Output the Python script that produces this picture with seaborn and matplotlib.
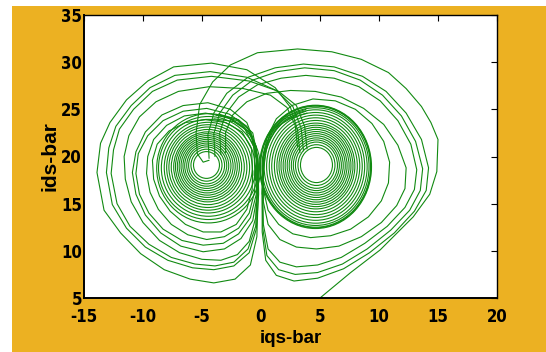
import matplotlib
matplotlib.use("Agg")
import matplotlib.pyplot as plt
from matplotlib.patches import Ellipse, Rectangle
from matplotlib import font_manager
import seaborn as sns

# ---------------- data ----------------
x_ticks = [-15, -10, -5, 0, 5, 10, 15, 20]
y_ticks = [5, 10, 15, 20, 25, 30, 35]
x_label = "iqs-bar"
y_label = "ids-bar"

# inner rings of the left lobe (centre, width, height in data units)
left_ring_cx = [-4.62, -4.62, -4.61, -4.60, -4.60, -4.58, -4.57, -4.56, -4.55,
                -4.54, -4.52, -4.51, -4.50, -4.48, -4.47, -4.46, -4.45, -4.44]
left_ring_cy = [19.10, 19.08, 19.06, 19.04, 19.02, 19.00, 18.98, 18.96, 18.94,
                18.92, 18.90, 18.88, 18.86, 18.84, 18.82, 18.80, 18.78, 18.75]
left_ring_w = [2.20, 2.63, 3.05, 3.39, 3.73, 4.07, 4.41, 4.75, 5.08,
               5.42, 5.76, 6.19, 6.61, 7.03, 7.46, 7.97, 8.47, 8.80]
left_ring_h = [2.84, 3.39, 3.92, 4.37, 4.81, 5.24, 5.68, 6.11, 6.55,
               7.00, 7.42, 7.97, 8.53, 9.06, 9.61, 10.27, 10.92, 11.58]

# inner rings of the right lobe
right_ring_cx = [4.70, 4.70, 4.70, 4.69, 4.69, 4.68, 4.68, 4.67, 4.67, 4.66, 4.66,
                 4.65, 4.65, 4.64, 4.64, 4.63, 4.63, 4.62, 4.62, 4.62, 4.62]
right_ring_cy = [19.10, 19.09, 19.08, 19.07, 19.06, 19.05, 19.04, 19.03, 19.02, 19.01, 19.00,
                 18.99, 18.98, 18.97, 18.96, 18.95, 18.94, 18.93, 18.92, 18.91, 18.90]
right_ring_w = [2.71, 3.14, 3.56, 3.90, 4.24, 4.58, 4.92, 5.25, 5.59, 5.93, 6.27,
                6.61, 7.03, 7.46, 7.88, 8.31, 8.73, 9.07, 9.32, 9.41, 9.49]
right_ring_h = [3.73, 4.32, 4.90, 5.37, 5.83, 6.30, 6.77, 7.23, 7.70, 8.17, 8.63,
                9.10, 9.68, 10.27, 10.85, 11.43, 12.02, 12.48, 12.83, 12.95, 13.07]

# outer loops of the left lobe (iq, id)
loop_L1 = [(3.3, 20.4), (3.1, 22.8), (2.5, 25.2), (1.2, 27.3), (-1.2, 29.2), (-4.2, 29.9),
           (-7.4, 29.5), (-9.6, 28.0), (-11.4, 26.0), (-12.8, 23.6), (-13.6, 21.4), (-13.9, 18.3),
           (-13.3, 14.3), (-11.9, 11.9), (-10.2, 9.7), (-8.2, 8.0), (-6.0, 7.0), (-4.0, 6.6),
           (-2.2, 7.0), (-0.9, 8.5), (-0.35, 11.5), (-0.25, 15.5), (-0.3, 19.5), (-0.8, 22.3),
           (-2.0, 23.8), (-3.8, 24.4)]
loop_L2 = [(3.6, 20.6), (3.4, 23.0), (2.7, 25.3), (1.3, 27.0), (-1.2, 28.4), (-4.3, 29.0),
           (-7.3, 28.6), (-9.4, 27.3), (-11.0, 25.4), (-12.3, 23.2), (-12.9, 20.9), (-13.1, 18.3),
           (-12.6, 14.9), (-11.4, 12.4), (-9.8, 10.4), (-7.9, 9.0), (-5.8, 8.2), (-4.0, 8.0),
           (-2.3, 8.4), (-1.0, 9.8), (-0.4, 12.3), (-0.2, 16.0), (-0.25, 19.8), (-0.7, 22.5),
           (-1.9, 23.9), (-3.6, 24.5)]
loop_L3 = [(3.9, 20.8), (3.7, 23.2), (3.0, 25.4), (1.5, 26.9), (-1.0, 28.0), (-4.2, 28.5),
           (-7.1, 28.1), (-9.2, 26.9), (-10.8, 25.0), (-12.0, 22.9), (-12.5, 20.7), (-12.7, 18.2),
           (-12.2, 15.0), (-11.1, 12.6), (-9.5, 10.7), (-7.6, 9.3), (-5.6, 8.6), (-3.9, 8.4),
           (-2.3, 8.8), (-1.1, 10.2), (-0.45, 12.6), (-0.3, 16.2), (-0.35, 20.0), (-0.9, 22.7),
           (-2.1, 24.0), (-3.8, 24.4)]
loop_L4 = [(3.1, 21.0), (2.9, 23.3), (2.2, 25.2), (0.8, 26.5), (-1.5, 27.2), (-4.4, 27.4),
           (-7.0, 26.9), (-8.9, 25.8), (-10.3, 24.2), (-11.2, 22.2), (-11.6, 20.0), (-11.5, 17.6),
           (-11.0, 15.2), (-10.0, 13.0), (-8.6, 11.1), (-6.9, 9.8), (-5.0, 9.1), (-3.4, 9.0),
           (-2.0, 9.6), (-1.0, 11.0), (-0.45, 13.5), (-0.3, 17.0), (-0.4, 20.5), (-1.0, 22.6),
           (-2.3, 23.7), (-4.0, 24.0)]
loop_L5 = [(-0.3, 17.0), (-0.4, 21.0), (-1.2, 23.6), (-2.6, 25.0), (-4.5, 25.7), (-6.6, 25.4),
           (-8.4, 24.4), (-9.8, 22.6), (-10.6, 20.5), (-10.9, 18.3), (-10.6, 16.0), (-9.8, 13.8),
           (-8.5, 11.9), (-6.8, 10.5), (-4.9, 9.9), (-3.1, 10.2), (-1.7, 11.3), (-0.7, 13.2),
           (-0.3, 16.0), (-0.25, 19.0), (-0.6, 21.5)]
loop_L6 = [(-0.3, 17.0), (-0.4, 21.0), (-1.2, 23.2), (-2.7, 24.5), (-4.6, 25.1), (-6.6, 24.8),
           (-8.3, 23.8), (-9.6, 22.2), (-10.4, 20.3), (-10.6, 18.2), (-10.3, 16.0), (-9.5, 14.0),
           (-8.3, 12.3), (-6.7, 11.1), (-4.9, 10.6), (-3.2, 10.8), (-1.9, 11.8), (-0.9, 13.5),
           (-0.4, 16.0), (-0.3, 19.0), (-0.7, 21.5)]
loop_L7 = [(-0.5, 17.5), (-0.6, 21.0), (-1.4, 23.0), (-2.9, 24.2), (-4.7, 24.6), (-6.5, 24.3),
           (-8.0, 23.3), (-9.1, 21.8), (-9.6, 20.0), (-9.7, 18.2), (-9.4, 16.2), (-8.7, 14.4),
           (-7.6, 12.8), (-6.2, 11.7), (-4.6, 11.2), (-3.1, 11.5), (-1.9, 12.4), (-1.0, 14.0),
           (-0.55, 16.2), (-0.45, 19.0)]
loop_L8 = [(-0.7, 18.0), (-0.8, 20.8), (-1.6, 22.6), (-3.0, 23.6), (-4.7, 23.9), (-6.4, 23.6),
           (-7.8, 22.7), (-8.8, 21.3), (-9.2, 19.6), (-9.1, 17.6), (-8.6, 15.8), (-7.7, 14.2),
           (-6.4, 12.8), (-4.9, 12.0), (-3.4, 12.0), (-2.1, 12.8), (-1.2, 14.4), (-0.75, 16.5),
           (-0.7, 18.5)]

# outer loops of the right lobe; loop_R0 is the start of the trajectory (enters from below)
loop_R0 = [(4.6, 4.2), (5.0, 5.0), (7.6, 7.7), (10.1, 10.1), (12.9, 13.6), (14.3, 16.0),
           (14.9, 18.4), (15.0, 21.8), (14.4, 23.6), (13.6, 25.3), (12.3, 27.2), (10.8, 28.9),
           (8.5, 30.3), (6.0, 31.1), (3.1, 31.4), (-0.3, 31.0), (-2.6, 29.7), (-4.1, 27.9),
           (-5.2, 25.5), (-5.5, 22.5), (-5.4, 20.3), (-4.9, 19.4), (-4.4, 19.6)]
loop_R1 = [(-4.4, 19.8), (-4.5, 22.3), (-4.0, 24.6), (-2.9, 26.7), (-1.1, 28.4), (1.2, 29.4),
           (3.6, 29.8), (6.2, 29.5), (8.6, 28.5), (10.6, 26.9), (12.3, 24.6), (13.6, 21.8),
           (14.2, 18.8), (14.0, 16.4), (13.0, 14.2), (11.3, 11.9), (9.2, 9.8), (7.0, 8.1),
           (4.8, 7.1), (2.8, 6.8), (1.3, 7.4), (0.4, 9.0), (0.1, 12.0), (0.1, 16.0),
           (0.2, 20.0), (0.8, 22.6), (2.0, 24.2), (3.8, 25.0)]
loop_R2 = [(-3.9, 20.0), (-4.0, 22.4), (-3.5, 24.6), (-2.4, 26.5), (-0.7, 28.1), (1.4, 29.0),
           (3.7, 29.4), (6.2, 29.1), (8.4, 28.1), (10.3, 26.5), (11.9, 24.3), (13.1, 21.6),
           (13.7, 18.7), (13.5, 16.4), (12.6, 14.3), (11.0, 12.2), (9.0, 10.2), (6.9, 8.6),
           (4.8, 7.7), (2.9, 7.5), (1.5, 8.0), (0.5, 9.5), (0.15, 12.4), (0.1, 16.2),
           (0.2, 20.0), (0.8, 22.5), (2.0, 24.0), (3.8, 24.8)]
loop_R3 = [(-3.4, 20.2), (-3.5, 22.5), (-3.0, 24.5), (-1.9, 26.3), (-0.3, 27.6), (1.7, 28.3),
           (3.8, 28.6), (6.2, 28.3), (8.3, 27.4), (10.1, 25.9), (11.6, 23.8), (12.7, 21.3),
           (13.2, 18.6), (13.0, 16.5), (12.2, 14.6), (10.7, 12.6), (8.8, 10.8), (6.8, 9.3),
           (4.8, 8.5), (3.0, 8.3), (1.6, 8.8), (0.6, 10.2), (0.2, 12.8), (0.15, 16.4),
           (0.25, 20.0), (0.9, 22.4), (2.1, 23.9), (3.9, 24.6)]
loop_R4 = [(-3.0, 20.4), (-3.0, 22.6), (-2.4, 24.4), (-1.2, 25.8), (0.5, 26.7), (2.5, 27.0),
           (4.6, 26.9), (6.8, 26.3), (8.7, 25.1), (10.4, 23.4), (11.6, 21.2), (12.3, 18.8),
           (12.2, 16.6), (11.5, 14.8), (10.2, 13.0), (8.5, 11.5), (6.6, 10.5), (4.7, 10.2),
           (3.0, 10.4), (1.6, 11.2), (0.6, 12.8), (0.2, 15.2), (0.2, 18.5), (0.5, 21.2),
           (1.4, 23.2), (3.0, 24.4)]
loop_R5 = [(0.1, 16.0), (0.15, 19.5), (0.5, 22.0), (1.3, 24.0), (2.6, 25.4), (4.4, 26.1),
           (6.3, 25.9), (8.0, 25.0), (9.4, 23.5), (10.4, 21.6), (10.9, 19.4), (10.8, 17.2),
           (10.2, 15.3), (9.1, 13.6), (7.6, 12.3), (5.9, 11.6), (4.2, 11.4), (2.7, 11.8),
           (1.5, 12.8), (0.6, 14.3), (0.2, 16.5), (0.15, 19.0)]

outer_loops = [loop_L1, loop_L2, loop_L3, loop_L4, loop_L5, loop_L6, loop_L7, loop_L8,
               loop_R0, loop_R1, loop_R2, loop_R3, loop_R4, loop_R5]

# ---------------- style ----------------
sns.set_style("white")
fonts = font_manager.fontManager.ttflist
names = {f.name for f in fonts}
tick_kw = {"family": "Liberation Sans", "size": 11.5}
if "Liberation Sans Narrow" in names:
    tick_kw = {"family": "Liberation Sans Narrow", "size": 13}
elif any(f.name == "DejaVu Sans" and f.stretch in ("condensed", "semi-condensed")
         and f.weight in (700, "bold") for f in fonts):
    tick_kw = {"family": "DejaVu Sans", "size": 12, "stretch": "condensed"}
plt.rcParams["font.family"] = ["Liberation Sans", "DejaVu Sans"]
plt.rcParams["text.color"] = "black"
plt.rcParams["axes.labelcolor"] = "black"
plt.rcParams["xtick.color"] = "black"
plt.rcParams["ytick.color"] = "black"

LINE = "#118a11"
LW = 0.8

fig = plt.figure(figsize=(5.46, 3.52), dpi=100, facecolor="white")
fig.patches.append(Rectangle((12 / 546, 0), 1 - 12 / 546, 1 - 6 / 352,
                             transform=fig.transFigure, facecolor="#ECB122",
                             edgecolor="none", zorder=-10))
ax = fig.add_axes([84 / 546, 54 / 352, 413 / 546, 283 / 352])
ax.set_facecolor("white")

for cx, cy, w, h in zip(left_ring_cx, left_ring_cy, left_ring_w, left_ring_h):
    ax.add_patch(Ellipse((cx, cy), w, h, fill=False, edgecolor=LINE, linewidth=LW))
for cx, cy, w, h in zip(right_ring_cx, right_ring_cy, right_ring_w, right_ring_h):
    ax.add_patch(Ellipse((cx, cy), w, h, fill=False, edgecolor=LINE, linewidth=LW))

for loop in outer_loops:
    sns.lineplot(x=[p[0] for p in loop], y=[p[1] for p in loop], sort=False,
                 estimator=None, color=LINE, linewidth=LW, ax=ax)

ax.set_xlim(x_ticks[0], x_ticks[-1])
ax.set_ylim(y_ticks[0], y_ticks[-1])
ax.set_xticks(x_ticks)
ax.set_yticks(y_ticks)
ax.set_xticklabels([str(v) for v in x_ticks])
ax.set_yticklabels([str(v) for v in y_ticks])
for lab in ax.get_xticklabels() + ax.get_yticklabels():
    lab.set_fontfamily(tick_kw["family"])
    lab.set_fontweight("bold")
    lab.set_fontsize(tick_kw["size"])
    lab.set_color("black")
    if "stretch" in tick_kw:
        lab.set_fontstretch(tick_kw["stretch"])
ax.tick_params(axis="both", direction="in", length=4, width=0.8, color="black",
               labelcolor="black", top=True, right=True)
ax.tick_params(axis="x", pad=7)
ax.tick_params(axis="y", pad=1.5)
for s in ax.spines.values():
    s.set_visible(True)
    s.set_color("black")
    s.set_linewidth(1.0)
for side in ("left", "bottom"):
    ax.spines[side].set_linewidth(1.4)

ax.set_xlabel(x_label, fontsize=13.5, fontweight="bold", labelpad=3, color="black")
ax.set_ylabel(y_label, fontsize=15, fontweight="bold", labelpad=1, color="black")

fig.savefig("out.png", dpi=100, facecolor=fig.get_facecolor())
